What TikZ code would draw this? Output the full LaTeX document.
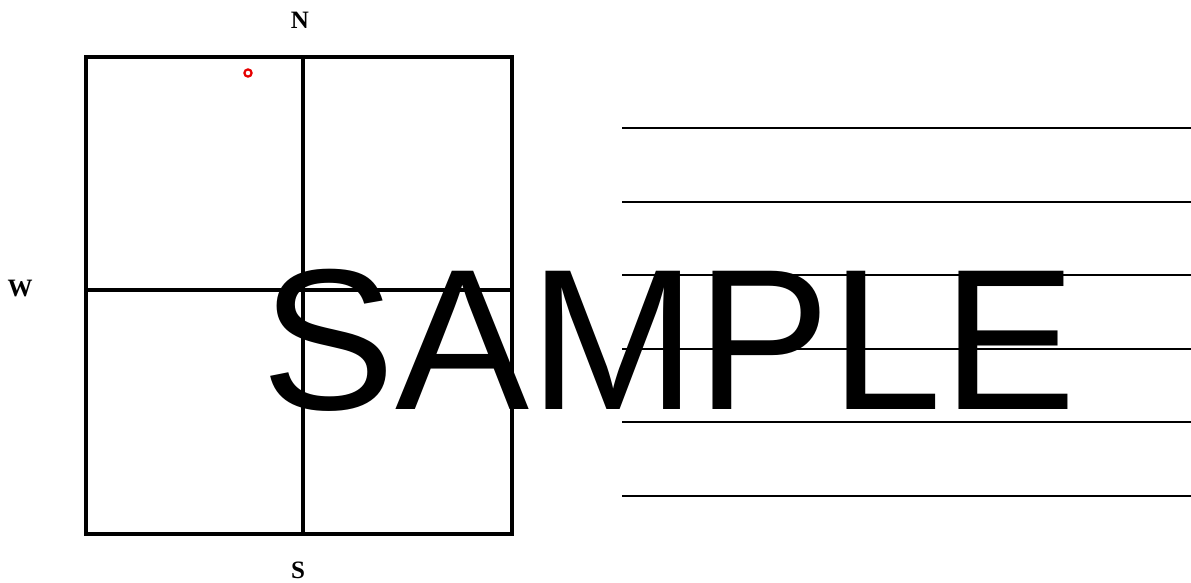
\documentclass[tikz,border=0pt]{standalone}
\usepackage{fontspec}
\setmainfont{Liberation Serif}
\newfontfamily\stampfont{Liberation Sans}
\usepackage{xcolor}
\usepackage{tikz}
\definecolor{pinred}{RGB}{230,0,0}

\begin{document}
\begin{tikzpicture}[x=1pt, y=-1pt,
		wall/.style={line width=3.5pt, black},
		rule/.style={line width=2pt, black},
		pin/.style={draw=pinred, line width=2.2pt},
		compass/.style={font=\fontsize{25}{25}\selectfont\bfseries, inner sep=0pt},
		stamp/.style={font=\stampfont\fontsize{201}{201}\selectfont, inner sep=0pt}]
		\useasboundingbox (0,0) rectangle (1191,582);
		% plot with its quarters
		\draw[wall] (86,57) rectangle (512,534);
		\draw[wall] (303,57) -- (303,534);
		\draw[wall] (86,290) -- (512,290);
		\draw[pin] (248,73) circle (3.6);
		% compass points
		\node[compass] (north) at (300,20) {N};
		\node[compass] (west) at (20,288) {W};
		\node[compass] (south) at (298,570) {S};
		% writing lines
		\foreach \y in {128,201.5,275,348.5,422,495.5}
			\draw[rule] (622,\y) -- (1191,\y);
		\node[stamp, anchor=base west] (sample) at (261,409) {SAMPLE};
	\end{tikzpicture}
\end{document}
